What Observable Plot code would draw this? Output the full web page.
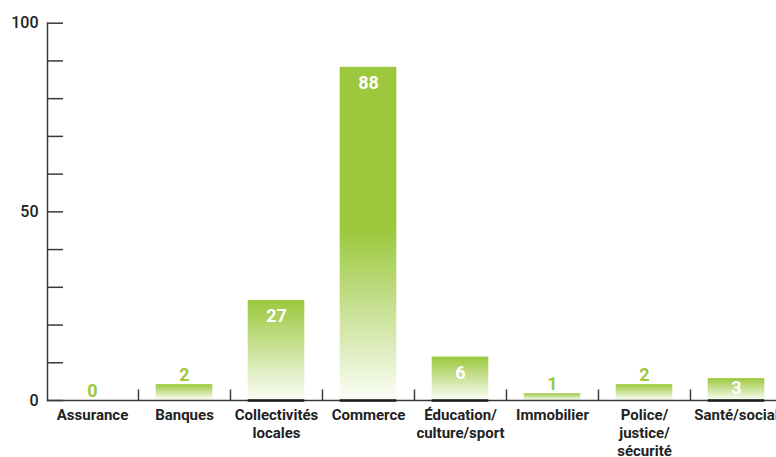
<!DOCTYPE html>
<html>
<head>
<meta charset="utf-8">
<script src="https://cdn.jsdelivr.net/npm/d3@7"></script>
<script src="https://cdn.jsdelivr.net/npm/@observablehq/plot@0.6"></script>
<style>
  html, body { margin: 0; padding: 0; background: white; overflow: hidden; }
</style>
</head>
<body>
<div id="chart"></div>
<script>
// ---- data ----
const categories = ["Assurance", "Banques", "Collectivités\nlocales", "Commerce", "Éducation/\nculture/sport", "Immobilier", "Police/\njustice/\nsécurité", "Santé/social"];
const barValues = [0, 4.2, 26.5, 88.3, 11.5, 1.8, 4.2, 5.8];   // bar heights as drawn
const valueLabels = ["0", "2", "27", "88", "6", "1", "2", "3"]; // printed labels
const yTickLabels = [0, 50, 100];
const yMinorTicks = [0, 10, 20, 30, 40, 50, 60, 70, 80, 90, 100];

// ---- layout ----
const W = 776, H = 457, mL = 47, mT = 22.7, mB = 57;
const xRange = [45.7, 782.1];
const bw = (xRange[1] - xRange[0]) / categories.length;
const inset = 17.7;
const ppu = (H - mB - mT) / 100;
const green = "#9bc83d";
const axisColor = "#3a3a3a";

const data = categories.map((c, i) => ({cat: c, v: barValues[i], label: valueLabels[i], i}));
const isInside = d => d.v * ppu >= 20;

const plot = Plot.plot({
  width: W, height: H,
  marginLeft: mL, marginRight: 0, marginTop: mT, marginBottom: mB,
  style: {fontFamily: "Roboto, 'Liberation Sans', sans-serif", background: "white", overflow: "hidden", color: "#222"},
  x: {type: "band", domain: categories, range: xRange, padding: 0, axis: null},
  y: {domain: [0, 100], axis: null},
  color: {type: "identity"},
  marks: [
    Plot.barY(data.filter(d => d.v > 0), {x: "cat", y: "v", fill: d => `url(#grad${d.i})`, insetLeft: inset, insetRight: inset}),
    Plot.ruleY([0], {stroke: axisColor, strokeWidth: 1.5}),
    Plot.tickY(data.filter(d => d.v * ppu > 20), {x: "cat", y: 0, stroke: "#1a1a1a", strokeWidth: 2.5, insetLeft: inset, insetRight: inset}),
    Plot.frame({anchor: "left", stroke: axisColor, strokeWidth: 1.5}),
    Plot.axisY({ticks: yMinorTicks, tickSize: -16, tickFormat: () => "", label: null, stroke: axisColor, strokeWidth: 1.5}),
    Plot.axisY({ticks: yTickLabels, tickSize: 0, tickPadding: 9, label: null, fontSize: 16, fontWeight: 500, fill: "#222"}),
    Plot.ruleX(categories.slice(1), {x: d => d, y1: 0, y2: 10.5 / ppu, dx: -bw / 2, stroke: axisColor, strokeWidth: 1.5}),
    Plot.text(categories, {x: d => d, y: 0, text: d => d, lineAnchor: "top", dy: 7, lineHeight: 1.2, fontSize: 15, fontWeight: 700, fill: "#222"}),
    Plot.text(data.filter(isInside), {
      x: "cat",
      y: d => d.v - Math.min(21.5, d.v * ppu - 6.7) / ppu,
      text: "label", lineAnchor: "bottom", fill: "white", fontSize: 18, fontWeight: 700
    }),
    Plot.text(data.filter(d => !isInside(d)), {x: "cat", y: "v", dy: -4, text: "label", lineAnchor: "bottom", fill: green, fontSize: 18, fontWeight: 700})
  ]
});

// gradients (per bar: solid green on top, fading to white over the bottom ~170px)
const ns = "http://www.w3.org/2000/svg";
const defs = document.createElementNS(ns, "defs");
data.forEach(d => {
  const g = document.createElementNS(ns, "linearGradient");
  g.setAttribute("id", `grad${d.i}`);
  g.setAttribute("x1", 0); g.setAttribute("y1", 0); g.setAttribute("x2", 0); g.setAttribute("y2", 1);
  const hpx = Math.max(1, d.v * ppu);
  const s = Math.max(0, 1 - 170 / hpx);
  [[0, green], [s, green], [1, "#fbfdf7"]].forEach(([o, c]) => {
    const st = document.createElementNS(ns, "stop");
    st.setAttribute("offset", o);
    st.setAttribute("stop-color", c);
    g.appendChild(st);
  });
  defs.appendChild(g);
});
plot.insertBefore(defs, plot.firstChild);
document.getElementById("chart").appendChild(plot);
</script>
</body>
</html>
